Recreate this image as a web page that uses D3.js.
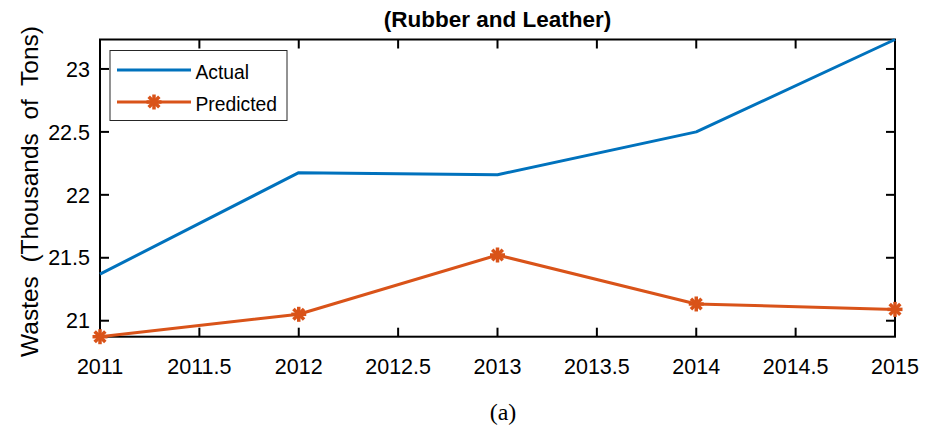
<!DOCTYPE html>
<html>
<head>
<meta charset="utf-8">
<script src="https://cdn.jsdelivr.net/npm/d3@7"></script>
<style>
  html, body { margin: 0; padding: 0; background: #fff; }
  svg { display: block; }
  text { font-family: Arial, "Liberation Sans", Helvetica, sans-serif; fill: #000; }
</style>
</head>
<body>
<svg id="chart" width="934" height="431"></svg>
<script>
// Annual wastes, thousands of tons
const years = [2011, 2012, 2013, 2014, 2015];
const actual = [21.37, 22.176, 22.16, 22.5, 23.234];
const predicted = [20.873, 21.051, 21.522, 21.133, 21.09];
const xTicks = [2011, 2011.5, 2012, 2012.5, 2013, 2013.5, 2014, 2014.5, 2015];
const yTicks = [21, 21.5, 22, 22.5, 23];
const seriesNames = ["Actual", "Predicted"];
const colors = ["#0072BD", "#D95319"];

const svg = d3.select("#chart");
const plot = { left: 100, right: 895, top: 39.5, bottom: 336.7 };

const x = d3.scaleLinear().domain([2011, 2015]).range([plot.left, plot.right]);
const y = d3.scaleLinear().domain([20.873, 23.234]).range([plot.bottom, plot.top]);

const tickLen = 9;
const axisColor = "#000";
const tickFont = 21.5;

// frame
svg.append("rect")
  .attr("x", plot.left).attr("y", plot.top)
  .attr("width", plot.right - plot.left).attr("height", plot.bottom - plot.top)
  .attr("fill", "none").attr("stroke", axisColor).attr("stroke-width", 2);

// x ticks (bottom and top, pointing inward)
const xg = svg.append("g");
xTicks.forEach(t => {
  const px = x(t);
  xg.append("line").attr("x1", px).attr("x2", px)
    .attr("y1", plot.bottom).attr("y2", plot.bottom - tickLen)
    .attr("stroke", axisColor).attr("stroke-width", 2);
  xg.append("line").attr("x1", px).attr("x2", px)
    .attr("y1", plot.top).attr("y2", plot.top + tickLen)
    .attr("stroke", axisColor).attr("stroke-width", 2);
  xg.append("text").attr("x", px).attr("y", 373.5)
    .attr("text-anchor", "middle").attr("font-size", tickFont)
    .text(d3.format("")(t));
});

// y ticks (left and right, pointing inward)
const yg = svg.append("g");
yTicks.forEach(t => {
  const py = y(t);
  yg.append("line").attr("x1", plot.left).attr("x2", plot.left + tickLen)
    .attr("y1", py).attr("y2", py)
    .attr("stroke", axisColor).attr("stroke-width", 2);
  yg.append("line").attr("x1", plot.right).attr("x2", plot.right - tickLen)
    .attr("y1", py).attr("y2", py)
    .attr("stroke", axisColor).attr("stroke-width", 2);
  yg.append("text").attr("x", 90).attr("y", py + 7.7)
    .attr("text-anchor", "end").attr("font-size", tickFont)
    .text(t);
});

// series lines
const line = d3.line().x((d, i) => x(years[i])).y(d => y(d));

svg.append("path").datum(actual)
  .attr("d", line).attr("fill", "none")
  .attr("stroke", colors[0]).attr("stroke-width", 3).attr("stroke-linejoin", "round");

svg.append("path").datum(predicted)
  .attr("d", line).attr("fill", "none")
  .attr("stroke", colors[1]).attr("stroke-width", 3).attr("stroke-linejoin", "round");

// asterisk marker: plus combined with cross
function asterisk(g, cx, cy, r, color) {
  const a = r * Math.SQRT1_2;
  const segs = [[-r, 0, r, 0], [0, -r, 0, r], [-a, -a, a, a], [-a, a, a, -a]];
  segs.forEach(s => {
    g.append("line")
      .attr("x1", cx + s[0]).attr("y1", cy + s[1])
      .attr("x2", cx + s[2]).attr("y2", cy + s[3])
      .attr("stroke", color).attr("stroke-width", 3.5).attr("stroke-linecap", "butt");
  });
}
const mg = svg.append("g");
predicted.forEach((v, i) => asterisk(mg, x(years[i]), y(v), 7.5, colors[1]));

// title
svg.append("text").attr("x", (plot.left + plot.right) / 2).attr("y", 27)
  .attr("text-anchor", "middle").attr("font-size", 22.5).attr("font-weight", "bold")
  .text("(Rubber and Leather)");

// y axis label
svg.append("text")
  .attr("transform", "translate(38,191.5) rotate(-90)")
  .attr("text-anchor", "middle").attr("font-size", 24.5)
  .attr("xml:space", "preserve").style("white-space", "pre")
  .text("Wastes  (Thousands  of  Tons)");

// legend
const lg = svg.append("g");
lg.append("rect").attr("x", 110).attr("y", 50.5).attr("width", 177).attr("height", 70)
  .attr("fill", "#fff").attr("stroke", "#262626").attr("stroke-width", 1);
lg.append("line").attr("x1", 117).attr("x2", 191).attr("y1", 70).attr("y2", 70)
  .attr("stroke", colors[0]).attr("stroke-width", 3);
lg.append("text").attr("x", 195.5).attr("y", 78.5).attr("font-size", 19.3).text(seriesNames[0]);
lg.append("line").attr("x1", 117).attr("x2", 191).attr("y1", 102).attr("y2", 102)
  .attr("stroke", colors[1]).attr("stroke-width", 3);
asterisk(lg, 154, 102, 7.5, colors[1]);
lg.append("text").attr("x", 195.5).attr("y", 110.5).attr("font-size", 19.3).text(seriesNames[1]);

// caption
svg.append("text").attr("x", 503).attr("y", 420)
  .attr("text-anchor", "middle").attr("font-size", 24)
  .style("font-family", "'Liberation Serif', 'Times New Roman', serif")
  .text("(a)");
</script>
</body>
</html>
